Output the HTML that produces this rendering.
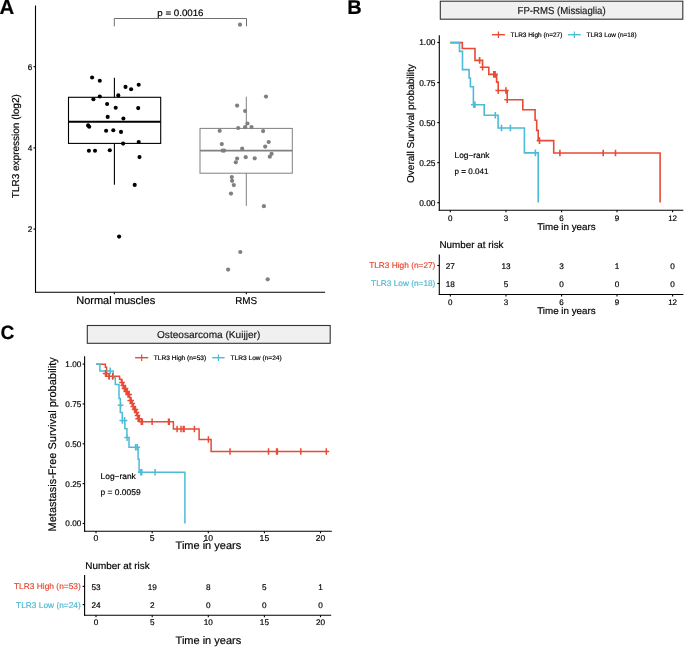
<!DOCTYPE html>
<html><head><meta charset="utf-8"><style>
html,body{margin:0;padding:0;background:#fff;}
body{width:685px;height:647px;overflow:hidden;}
svg{display:block;font-family:"Liberation Sans", sans-serif;will-change:transform;text-rendering:geometricPrecision;}
text{stroke-width:0.18px;}
</style></head><body>
<svg width="685" height="647" viewBox="0 0 685 647">
<rect width="685" height="647" fill="#fff"/>
<text x="-0.5" y="14.0" font-size="20.4" fill="#000" stroke="#000" font-weight="bold">A</text>
<line x1="35.5" y1="5.6" x2="35.5" y2="292.7" stroke="#000" stroke-width="1.1"/>
<line x1="35.0" y1="292.2" x2="325.1" y2="292.2" stroke="#000" stroke-width="1.1"/>
<line x1="33.5" y1="66.7" x2="35.5" y2="66.7" stroke="#000" stroke-width="1.1"/>
<text x="32.2" y="69.60000000000001" font-size="8.2" text-anchor="end" fill="#000" stroke="#000">6</text>
<line x1="33.5" y1="147.9" x2="35.5" y2="147.9" stroke="#000" stroke-width="1.1"/>
<text x="32.2" y="150.8" font-size="8.2" text-anchor="end" fill="#000" stroke="#000">4</text>
<line x1="33.5" y1="229.1" x2="35.5" y2="229.1" stroke="#000" stroke-width="1.1"/>
<text x="32.2" y="232.0" font-size="8.2" text-anchor="end" fill="#000" stroke="#000">2</text>
<line x1="114.3" y1="292.2" x2="114.3" y2="294.2" stroke="#000" stroke-width="1.1"/>
<line x1="246.3" y1="292.2" x2="246.3" y2="294.2" stroke="#000" stroke-width="1.1"/>
<text x="76.2" y="303.9" font-size="11" fill="#000" stroke="#000" textLength="79.0" lengthAdjust="spacingAndGlyphs">Normal muscles</text>
<text x="235.2" y="303.9" font-size="10" fill="#000" stroke="#000" textLength="22.0" lengthAdjust="spacingAndGlyphs">RMS</text>
<text x="19.3" y="198.2" font-size="10" fill="#000" stroke="#000" textLength="104.0" lengthAdjust="spacingAndGlyphs" transform="rotate(-90 19.3 198.2)">TLR3 expression (log2)</text>
<path d="M114.3,26.3V18.5H246.5V26.3" stroke="#555" stroke-width="0.85" fill="none"/>
<text x="157.3" y="15.6" font-size="9.2" fill="#000" stroke="#000" textLength="46.2" lengthAdjust="spacingAndGlyphs">p = 0.0016</text>
<rect x="68.5" y="97.3" width="92.2" height="46.1" fill="none" stroke="#000" stroke-width="1.1"/>
<line x1="68.5" y1="121.8" x2="160.7" y2="121.8" stroke="#000" stroke-width="2.1"/>
<line x1="114.4" y1="77.7" x2="114.4" y2="97.3" stroke="#000" stroke-width="1.1"/>
<line x1="114.4" y1="143.4" x2="114.4" y2="184.8" stroke="#000" stroke-width="1.1"/>
<g fill="#000"><circle cx="92.1" cy="77.5" r="2.05"/><circle cx="99.8" cy="80.8" r="2.05"/><circle cx="125.5" cy="86.9" r="2.05"/><circle cx="131.1" cy="89.3" r="2.05"/><circle cx="138.7" cy="84.8" r="2.05"/><circle cx="118.3" cy="95.4" r="2.05"/><circle cx="99.8" cy="96.5" r="2.05"/><circle cx="93.4" cy="99.2" r="2.05"/><circle cx="107.1" cy="104" r="2.05"/><circle cx="115.7" cy="107.7" r="2.05"/><circle cx="138.2" cy="108.1" r="2.05"/><circle cx="107.7" cy="116.9" r="2.05"/><circle cx="123.4" cy="118.5" r="2.05"/><circle cx="88.1" cy="125.4" r="2.05"/><circle cx="89.2" cy="126.7" r="2.05"/><circle cx="106.1" cy="130.7" r="2.05"/><circle cx="113.3" cy="130.3" r="2.05"/><circle cx="121" cy="131.9" r="2.05"/><circle cx="123.1" cy="143.6" r="2.05"/><circle cx="138.7" cy="142" r="2.05"/><circle cx="88.9" cy="150.7" r="2.05"/><circle cx="95" cy="150.8" r="2.05"/><circle cx="109.8" cy="150.3" r="2.05"/><circle cx="139.5" cy="157.1" r="2.05"/><circle cx="134.7" cy="184.9" r="2.05"/><circle cx="119.1" cy="236.6" r="2.05"/></g>
<rect x="200.0" y="128.4" width="92.3" height="44.8" fill="none" stroke="#808080" stroke-width="1.0"/>
<line x1="200.0" y1="150.6" x2="292.3" y2="150.6" stroke="#808080" stroke-width="1.9"/>
<line x1="246.3" y1="96.7" x2="246.3" y2="128.4" stroke="#808080" stroke-width="1.0"/>
<line x1="246.3" y1="173.2" x2="246.3" y2="205.9" stroke="#808080" stroke-width="1.0"/>
<g fill="#808080"><circle cx="240" cy="24.7" r="2.1"/><circle cx="266" cy="96.6" r="2.1"/><circle cx="237.1" cy="105.6" r="2.1"/><circle cx="245.1" cy="111" r="2.1"/><circle cx="247.5" cy="123.5" r="2.1"/><circle cx="238.2" cy="128" r="2.1"/><circle cx="245.1" cy="127.2" r="2.1"/><circle cx="251.5" cy="127.1" r="2.1"/><circle cx="219.7" cy="130.8" r="2.1"/><circle cx="263.1" cy="131.1" r="2.1"/><circle cx="268.7" cy="142" r="2.1"/><circle cx="221.8" cy="144.1" r="2.1"/><circle cx="265.2" cy="146.6" r="2.1"/><circle cx="242.2" cy="148.7" r="2.1"/><circle cx="222.6" cy="150.6" r="2.1"/><circle cx="224.2" cy="150.6" r="2.1"/><circle cx="271.6" cy="153.8" r="2.1"/><circle cx="269.8" cy="156.7" r="2.1"/><circle cx="245.7" cy="157.2" r="2.1"/><circle cx="254.7" cy="158.3" r="2.1"/><circle cx="237.1" cy="158.6" r="2.1"/><circle cx="235.8" cy="162.3" r="2.1"/><circle cx="231.8" cy="177.1" r="2.1"/><circle cx="232.1" cy="180.8" r="2.1"/><circle cx="233.8" cy="185.1" r="2.1"/><circle cx="231" cy="193.6" r="2.1"/><circle cx="263.9" cy="206.2" r="2.1"/><circle cx="240.3" cy="252" r="2.1"/><circle cx="228.1" cy="269.6" r="2.1"/><circle cx="267.7" cy="279.3" r="2.1"/></g>
<text x="347.2" y="13.8" font-size="20" fill="#000" stroke="#000" font-weight="bold">B</text>
<rect x="440.3" y="1.2" width="242.5" height="18" fill="#F0F0F0" stroke="#333" stroke-width="1.1"/>
<text x="517.6" y="13.7" font-size="10.2" fill="#1a1a1a" stroke="#1a1a1a" textLength="88.0" lengthAdjust="spacingAndGlyphs">FP-RMS (Missiaglia)</text>
<line x1="492" y1="34.7" x2="504.9" y2="34.7" stroke="#E64B35" stroke-width="1.4"/>
<line x1="498.4" y1="31.4" x2="498.4" y2="38" stroke="#E64B35" stroke-width="1.2"/>
<text x="510.6" y="37.1" font-size="6.5" fill="#000" stroke="#000" textLength="51.8" lengthAdjust="spacingAndGlyphs">TLR3 High (n=27)</text>
<line x1="567.9" y1="34.7" x2="580.8" y2="34.7" stroke="#4DBBD5" stroke-width="1.4"/>
<line x1="574.4" y1="31.4" x2="574.4" y2="38" stroke="#4DBBD5" stroke-width="1.2"/>
<text x="586.6" y="37.1" font-size="6.5" fill="#000" stroke="#000" textLength="50.0" lengthAdjust="spacingAndGlyphs">TLR3 Low (n=18)</text>
<line x1="439.3" y1="35.2" x2="439.3" y2="210.7" stroke="#000" stroke-width="1.1"/>
<line x1="438.8" y1="210.2" x2="683.3" y2="210.2" stroke="#000" stroke-width="1.1"/>
<line x1="437.3" y1="42.5" x2="439.3" y2="42.5" stroke="#000" stroke-width="1.1"/>
<text x="435.5" y="45.45" font-size="8.4" text-anchor="end" fill="#000" stroke="#000">1.00</text>
<line x1="437.3" y1="82.55" x2="439.3" y2="82.55" stroke="#000" stroke-width="1.1"/>
<text x="435.5" y="85.5" font-size="8.4" text-anchor="end" fill="#000" stroke="#000">0.75</text>
<line x1="437.3" y1="122.6" x2="439.3" y2="122.6" stroke="#000" stroke-width="1.1"/>
<text x="435.5" y="125.55" font-size="8.4" text-anchor="end" fill="#000" stroke="#000">0.50</text>
<line x1="437.3" y1="162.64999999999998" x2="439.3" y2="162.64999999999998" stroke="#000" stroke-width="1.1"/>
<text x="435.5" y="165.59999999999997" font-size="8.4" text-anchor="end" fill="#000" stroke="#000">0.25</text>
<line x1="437.3" y1="202.7" x2="439.3" y2="202.7" stroke="#000" stroke-width="1.1"/>
<text x="435.5" y="205.64999999999998" font-size="8.4" text-anchor="end" fill="#000" stroke="#000">0.00</text>
<line x1="450.3" y1="210.2" x2="450.3" y2="212.2" stroke="#000" stroke-width="1.1"/>
<text x="450.3" y="220.6" font-size="8" text-anchor="middle" fill="#000" stroke="#000">0</text>
<line x1="506.0" y1="210.2" x2="506.0" y2="212.2" stroke="#000" stroke-width="1.1"/>
<text x="506.0" y="220.6" font-size="8" text-anchor="middle" fill="#000" stroke="#000">3</text>
<line x1="561.6" y1="210.2" x2="561.6" y2="212.2" stroke="#000" stroke-width="1.1"/>
<text x="561.6" y="220.6" font-size="8" text-anchor="middle" fill="#000" stroke="#000">6</text>
<line x1="617.0" y1="210.2" x2="617.0" y2="212.2" stroke="#000" stroke-width="1.1"/>
<text x="617.0" y="220.6" font-size="8" text-anchor="middle" fill="#000" stroke="#000">9</text>
<line x1="672.6" y1="210.2" x2="672.6" y2="212.2" stroke="#000" stroke-width="1.1"/>
<text x="672.6" y="220.6" font-size="8" text-anchor="middle" fill="#000" stroke="#000">12</text>
<text x="537.2" y="230.4" font-size="9.7" fill="#000" stroke="#000" textLength="58.4" lengthAdjust="spacingAndGlyphs">Time in years</text>
<text x="413.5" y="183.0" font-size="10" fill="#000" stroke="#000" textLength="118.8" lengthAdjust="spacingAndGlyphs" transform="rotate(-90 413.5 183.0)">Overall Survival probability</text>
<text x="454.5" y="158.0" font-size="8.2" fill="#000" stroke="#000" textLength="35.0" lengthAdjust="spacingAndGlyphs">Log−rank</text>
<text x="454.5" y="173.7" font-size="8.0" fill="#000" stroke="#000" textLength="34.0" lengthAdjust="spacingAndGlyphs">p = 0.041</text>
<path d="M450.3,42.6H462.3V48.5H475V60.4H482.6V67.3H488.8V74.4H496.6V82.1H498.2V90.5H507.2V99.7H522.8V109.7H535.1V120.2H536.7V130.4H538.2V140.6H553.7V153H660.1V202.5M476.80,60.40h5.60M479.60,57.10v6.60M479.80,67.30h5.60M482.60,64.00v6.60M491.00,74.40h5.60M493.80,71.10v6.60M492.30,74.40h5.60M495.10,71.10v6.60M495.40,90.50h5.60M498.20,87.20v6.60M503.10,90.50h5.60M505.90,87.20v6.60M504.40,99.70h5.60M507.20,96.40v6.60M536.70,140.60h5.60M539.50,137.30v6.60M557.10,153.00h5.60M559.90,149.70v6.60M600.40,153.00h5.60M603.20,149.70v6.60M612.70,153.00h5.60M615.50,149.70v6.60" stroke="#E64B35" stroke-width="1.6" fill="none"/>
<path d="M450.3,42.6H459.5V51.4H462.5V69.6H469.1V78H470.4V86.7H473.4V104.7H484.2V115.3H498.1V128H524.4V152.9H538.2V202.5M470.90,104.70h5.60M473.70,101.40v6.60M472.10,104.70h5.60M474.90,101.40v6.60M492.50,115.30h5.60M495.30,112.00v6.60M498.70,128.00h5.60M501.50,124.70v6.60M507.60,128.00h5.60M510.40,124.70v6.60M532.60,152.90h5.60M535.40,149.60v6.60" stroke="#4DBBD5" stroke-width="1.6" fill="none"/>
<text x="439.5" y="248.1" font-size="9.75" fill="#000" stroke="#000" textLength="64.0" lengthAdjust="spacingAndGlyphs">Number at risk</text>
<line x1="439.3" y1="254.5" x2="439.3" y2="295" stroke="#000" stroke-width="1.1"/>
<line x1="438.8" y1="294.5" x2="683.4" y2="294.5" stroke="#000" stroke-width="1.1"/>
<line x1="437.3" y1="265.5" x2="439.3" y2="265.5" stroke="#000" stroke-width="1.1"/>
<line x1="437.3" y1="283.5" x2="439.3" y2="283.5" stroke="#000" stroke-width="1.1"/>
<text x="435.4" y="268.4" font-size="8.24" text-anchor="end" fill="#E64B35" stroke="#E64B35" textLength="66.2" lengthAdjust="spacingAndGlyphs">TLR3 High (n=27)</text>
<text x="435.4" y="286.4" font-size="8.24" text-anchor="end" fill="#4DBBD5" stroke="#4DBBD5" textLength="64.3" lengthAdjust="spacingAndGlyphs">TLR3 Low (n=18)</text>
<text x="450.3" y="268.8" font-size="8.2" text-anchor="middle" fill="#000" stroke="#000">27</text>
<text x="450.3" y="286.9" font-size="8.2" text-anchor="middle" fill="#000" stroke="#000">18</text>
<line x1="450.3" y1="294.5" x2="450.3" y2="296.4" stroke="#000" stroke-width="1.1"/>
<text x="450.3" y="304.7" font-size="8" text-anchor="middle" fill="#000" stroke="#000">0</text>
<text x="506.0" y="268.8" font-size="8.2" text-anchor="middle" fill="#000" stroke="#000">13</text>
<text x="506.0" y="286.9" font-size="8.2" text-anchor="middle" fill="#000" stroke="#000">5</text>
<line x1="506.0" y1="294.5" x2="506.0" y2="296.4" stroke="#000" stroke-width="1.1"/>
<text x="506.0" y="304.7" font-size="8" text-anchor="middle" fill="#000" stroke="#000">3</text>
<text x="561.6" y="268.8" font-size="8.2" text-anchor="middle" fill="#000" stroke="#000">3</text>
<text x="561.6" y="286.9" font-size="8.2" text-anchor="middle" fill="#000" stroke="#000">0</text>
<line x1="561.6" y1="294.5" x2="561.6" y2="296.4" stroke="#000" stroke-width="1.1"/>
<text x="561.6" y="304.7" font-size="8" text-anchor="middle" fill="#000" stroke="#000">6</text>
<text x="617.0" y="268.8" font-size="8.2" text-anchor="middle" fill="#000" stroke="#000">1</text>
<text x="617.0" y="286.9" font-size="8.2" text-anchor="middle" fill="#000" stroke="#000">0</text>
<line x1="617.0" y1="294.5" x2="617.0" y2="296.4" stroke="#000" stroke-width="1.1"/>
<text x="617.0" y="304.7" font-size="8" text-anchor="middle" fill="#000" stroke="#000">9</text>
<text x="672.6" y="268.8" font-size="8.2" text-anchor="middle" fill="#000" stroke="#000">0</text>
<text x="672.6" y="286.9" font-size="8.2" text-anchor="middle" fill="#000" stroke="#000">0</text>
<line x1="672.6" y1="294.5" x2="672.6" y2="296.4" stroke="#000" stroke-width="1.1"/>
<text x="672.6" y="304.7" font-size="8" text-anchor="middle" fill="#000" stroke="#000">12</text>
<text x="537.2" y="314.4" font-size="9.7" fill="#000" stroke="#000" textLength="58.4" lengthAdjust="spacingAndGlyphs">Time in years</text>
<text x="0.6" y="338.6" font-size="19.2" fill="#000" stroke="#000" font-weight="bold">C</text>
<rect x="87.3" y="325.5" width="242.9" height="17.8" fill="#F0F0F0" stroke="#333" stroke-width="1.1"/>
<text x="157.0" y="338.0" font-size="10.0" fill="#1a1a1a" stroke="#1a1a1a" textLength="103.3" lengthAdjust="spacingAndGlyphs">Osteosarcoma (Kuijjer)</text>
<line x1="135.1" y1="357.7" x2="148.2" y2="357.7" stroke="#E64B35" stroke-width="1.4"/>
<line x1="141.7" y1="354.4" x2="141.7" y2="361" stroke="#E64B35" stroke-width="1.2"/>
<text x="153.8" y="360.1" font-size="6.5" fill="#000" stroke="#000" textLength="52.4" lengthAdjust="spacingAndGlyphs">TLR3 High (n=53)</text>
<line x1="212.2" y1="357.7" x2="224.6" y2="357.7" stroke="#4DBBD5" stroke-width="1.4"/>
<line x1="218.4" y1="354.4" x2="218.4" y2="361" stroke="#4DBBD5" stroke-width="1.2"/>
<text x="230.6" y="360.1" font-size="6.5" fill="#000" stroke="#000" textLength="51.1" lengthAdjust="spacingAndGlyphs">TLR3 Low (n=24)</text>
<line x1="84.6" y1="356.3" x2="84.6" y2="531.8" stroke="#000" stroke-width="1.1"/>
<line x1="84.1" y1="531.3" x2="331.8" y2="531.3" stroke="#000" stroke-width="1.1"/>
<line x1="82.6" y1="364.1" x2="84.6" y2="364.1" stroke="#000" stroke-width="1.1"/>
<text x="81.3" y="367.0" font-size="8.2" text-anchor="end" fill="#000" stroke="#000">1.00</text>
<line x1="82.6" y1="403.95" x2="84.6" y2="403.95" stroke="#000" stroke-width="1.1"/>
<text x="81.3" y="406.84999999999997" font-size="8.2" text-anchor="end" fill="#000" stroke="#000">0.75</text>
<line x1="82.6" y1="443.8" x2="84.6" y2="443.8" stroke="#000" stroke-width="1.1"/>
<text x="81.3" y="446.7" font-size="8.2" text-anchor="end" fill="#000" stroke="#000">0.50</text>
<line x1="82.6" y1="483.65" x2="84.6" y2="483.65" stroke="#000" stroke-width="1.1"/>
<text x="81.3" y="486.54999999999995" font-size="8.2" text-anchor="end" fill="#000" stroke="#000">0.25</text>
<line x1="82.6" y1="523.5" x2="84.6" y2="523.5" stroke="#000" stroke-width="1.1"/>
<text x="81.3" y="526.4" font-size="8.2" text-anchor="end" fill="#000" stroke="#000">0.00</text>
<line x1="96.0" y1="531.3" x2="96.0" y2="533.3" stroke="#000" stroke-width="1.1"/>
<text x="96.0" y="541.2" font-size="8.6" text-anchor="middle" fill="#000" stroke="#000">0</text>
<line x1="152.2" y1="531.3" x2="152.2" y2="533.3" stroke="#000" stroke-width="1.1"/>
<text x="152.2" y="541.2" font-size="8.6" text-anchor="middle" fill="#000" stroke="#000">5</text>
<line x1="208.3" y1="531.3" x2="208.3" y2="533.3" stroke="#000" stroke-width="1.1"/>
<text x="208.3" y="541.2" font-size="8.6" text-anchor="middle" fill="#000" stroke="#000">10</text>
<line x1="264.4" y1="531.3" x2="264.4" y2="533.3" stroke="#000" stroke-width="1.1"/>
<text x="264.4" y="541.2" font-size="8.6" text-anchor="middle" fill="#000" stroke="#000">15</text>
<line x1="320.5" y1="531.3" x2="320.5" y2="533.3" stroke="#000" stroke-width="1.1"/>
<text x="320.5" y="541.2" font-size="8.6" text-anchor="middle" fill="#000" stroke="#000">20</text>
<text x="175.6" y="548.9" font-size="10.9" fill="#000" stroke="#000" textLength="65.6" lengthAdjust="spacingAndGlyphs">Time in years</text>
<text x="56.2" y="531.4" font-size="11" fill="#000" stroke="#000" textLength="174.2" lengthAdjust="spacingAndGlyphs" transform="rotate(-90 56.2 531.4)">Metastasis-Free Survival probability</text>
<text x="100.6" y="478.8" font-size="8.2" fill="#000" stroke="#000" textLength="35.2" lengthAdjust="spacingAndGlyphs">Log−rank</text>
<text x="100.6" y="494.6" font-size="8.3" fill="#000" stroke="#000" textLength="40.0" lengthAdjust="spacingAndGlyphs">p = 0.0059</text>
<path d="M96.1,364.2H105.4V367.2H106.6V376.3H119.6V379.3H121.4V382.4H123V385.4H124.5V388.4H126.2V391.4H128V394.5H129.5V397.5H130.4V400.5H131.8V403.5H133.2V406.5H134.5V409.6H135.7V412.6H137V415.6H138.1V418.7H139.3V421.7H173.4V429H199.1V439.5H211.1V451.5H329.2M102.80,373.40h5.60M105.60,370.10v6.60M106.30,376.30h5.60M109.10,373.00v6.60M109.90,376.30h5.60M112.70,373.00v6.60M119.20,382.40h5.60M122.00,379.10v6.60M121.60,388.40h5.60M124.40,385.10v6.60M123.40,391.40h5.60M126.20,388.10v6.60M125.20,394.50h5.60M128.00,391.20v6.60M127.40,400.50h5.60M130.20,397.20v6.60M130.40,406.50h5.60M133.20,403.20v6.60M131.80,409.60h5.60M134.60,406.30v6.60M133.70,412.60h5.60M136.50,409.30v6.60M135.30,418.70h5.60M138.10,415.40v6.60M120.40,385.40h5.60M123.20,382.10v6.60M122.70,388.40h5.60M125.50,385.10v6.60M124.40,391.40h5.60M127.20,388.10v6.60M126.40,394.50h5.60M129.20,391.20v6.60M128.40,400.50h5.60M131.20,397.20v6.60M129.50,403.50h5.60M132.30,400.20v6.60M132.70,409.60h5.60M135.50,406.30v6.60M134.70,415.60h5.60M137.50,412.30v6.60M136.40,418.70h5.60M139.20,415.40v6.60M138.50,421.70h5.60M141.30,418.40v6.60M139.60,421.70h5.60M142.40,418.40v6.60M149.30,421.70h5.60M152.10,418.40v6.60M165.70,421.70h5.60M168.50,418.40v6.60M166.50,421.70h5.60M169.30,418.40v6.60M174.30,429.00h5.60M177.10,425.70v6.60M178.20,429.00h5.60M181.00,425.70v6.60M180.50,429.00h5.60M183.30,425.70v6.60M181.30,429.00h5.60M184.10,425.70v6.60M191.60,429.00h5.60M194.40,425.70v6.60M205.60,439.50h5.60M208.40,436.20v6.60M227.20,451.50h5.60M230.00,448.20v6.60M265.70,451.50h5.60M268.50,448.20v6.60M273.80,451.50h5.60M276.60,448.20v6.60M274.60,451.50h5.60M277.40,448.20v6.60M298.00,451.50h5.60M300.80,448.20v6.60M323.50,451.50h5.60M326.30,448.20v6.60" stroke="#E64B35" stroke-width="1.5" fill="none"/>
<path d="M96.1,364.3H99.9V370.9H113.2V377.5H115.3V384.6H119V398.5H120.3V412.5H122.3V420.4H124.9V428.7H126.9V437.6H129V447.2H138.1V459.2H139.1V472.3H184.9V523.5M107.40,370.90h5.60M110.20,367.60v6.60M117.80,405.30h5.60M120.60,402.00v6.60M119.50,420.40h5.60M122.30,417.10v6.60M121.80,420.40h5.60M124.60,417.10v6.60M124.30,437.60h5.60M127.10,434.30v6.60M132.80,447.20h5.60M135.60,443.90v6.60M134.50,447.20h5.60M137.30,443.90v6.60M138.00,472.30h5.60M140.80,469.00v6.60M139.00,472.30h5.60M141.80,469.00v6.60M152.30,472.30h5.60M155.10,469.00v6.60" stroke="#4DBBD5" stroke-width="1.5" fill="none"/>
<path d="M105.59,373.40h0.02M105.60,370.10v6.60M109.09,376.30h0.02M109.10,373.00v6.60M112.69,376.30h0.02M112.70,373.00v6.60" stroke="#E64B35" stroke-width="1.5" fill="none"/>
<text x="85.3" y="569.3" font-size="9.8" fill="#000" stroke="#000" textLength="64.4" lengthAdjust="spacingAndGlyphs">Number at risk</text>
<line x1="84.6" y1="575" x2="84.6" y2="615.8" stroke="#000" stroke-width="1.1"/>
<line x1="84.1" y1="615.3" x2="331.2" y2="615.3" stroke="#000" stroke-width="1.1"/>
<line x1="82.6" y1="586.4" x2="84.6" y2="586.4" stroke="#000" stroke-width="1.1"/>
<line x1="82.6" y1="604.6" x2="84.6" y2="604.6" stroke="#000" stroke-width="1.1"/>
<text x="80.8" y="589.3" font-size="8.3" text-anchor="end" fill="#E64B35" stroke="#E64B35" textLength="66.8" lengthAdjust="spacingAndGlyphs">TLR3 High (n=53)</text>
<text x="80.8" y="607.5" font-size="8.3" text-anchor="end" fill="#4DBBD5" stroke="#4DBBD5" textLength="64.7" lengthAdjust="spacingAndGlyphs">TLR3 Low (n=24)</text>
<text x="96.0" y="589.6" font-size="8.2" text-anchor="middle" fill="#000" stroke="#000">53</text>
<text x="96.0" y="607.8" font-size="8.2" text-anchor="middle" fill="#000" stroke="#000">24</text>
<line x1="96.0" y1="615.3" x2="96.0" y2="617.2" stroke="#000" stroke-width="1.1"/>
<text x="96.0" y="624.8" font-size="8.2" text-anchor="middle" fill="#000" stroke="#000">0</text>
<text x="152.2" y="589.6" font-size="8.2" text-anchor="middle" fill="#000" stroke="#000">19</text>
<text x="152.2" y="607.8" font-size="8.2" text-anchor="middle" fill="#000" stroke="#000">2</text>
<line x1="152.2" y1="615.3" x2="152.2" y2="617.2" stroke="#000" stroke-width="1.1"/>
<text x="152.2" y="624.8" font-size="8.2" text-anchor="middle" fill="#000" stroke="#000">5</text>
<text x="208.3" y="589.6" font-size="8.2" text-anchor="middle" fill="#000" stroke="#000">8</text>
<text x="208.3" y="607.8" font-size="8.2" text-anchor="middle" fill="#000" stroke="#000">0</text>
<line x1="208.3" y1="615.3" x2="208.3" y2="617.2" stroke="#000" stroke-width="1.1"/>
<text x="208.3" y="624.8" font-size="8.2" text-anchor="middle" fill="#000" stroke="#000">10</text>
<text x="264.4" y="589.6" font-size="8.2" text-anchor="middle" fill="#000" stroke="#000">5</text>
<text x="264.4" y="607.8" font-size="8.2" text-anchor="middle" fill="#000" stroke="#000">0</text>
<line x1="264.4" y1="615.3" x2="264.4" y2="617.2" stroke="#000" stroke-width="1.1"/>
<text x="264.4" y="624.8" font-size="8.2" text-anchor="middle" fill="#000" stroke="#000">15</text>
<text x="320.5" y="589.6" font-size="8.2" text-anchor="middle" fill="#000" stroke="#000">1</text>
<text x="320.5" y="607.8" font-size="8.2" text-anchor="middle" fill="#000" stroke="#000">0</text>
<line x1="320.5" y1="615.3" x2="320.5" y2="617.2" stroke="#000" stroke-width="1.1"/>
<text x="320.5" y="624.8" font-size="8.2" text-anchor="middle" fill="#000" stroke="#000">20</text>
<text x="175.6" y="643.9" font-size="10.9" fill="#000" stroke="#000" textLength="65.6" lengthAdjust="spacingAndGlyphs">Time in years</text>
</svg>
</body></html>
